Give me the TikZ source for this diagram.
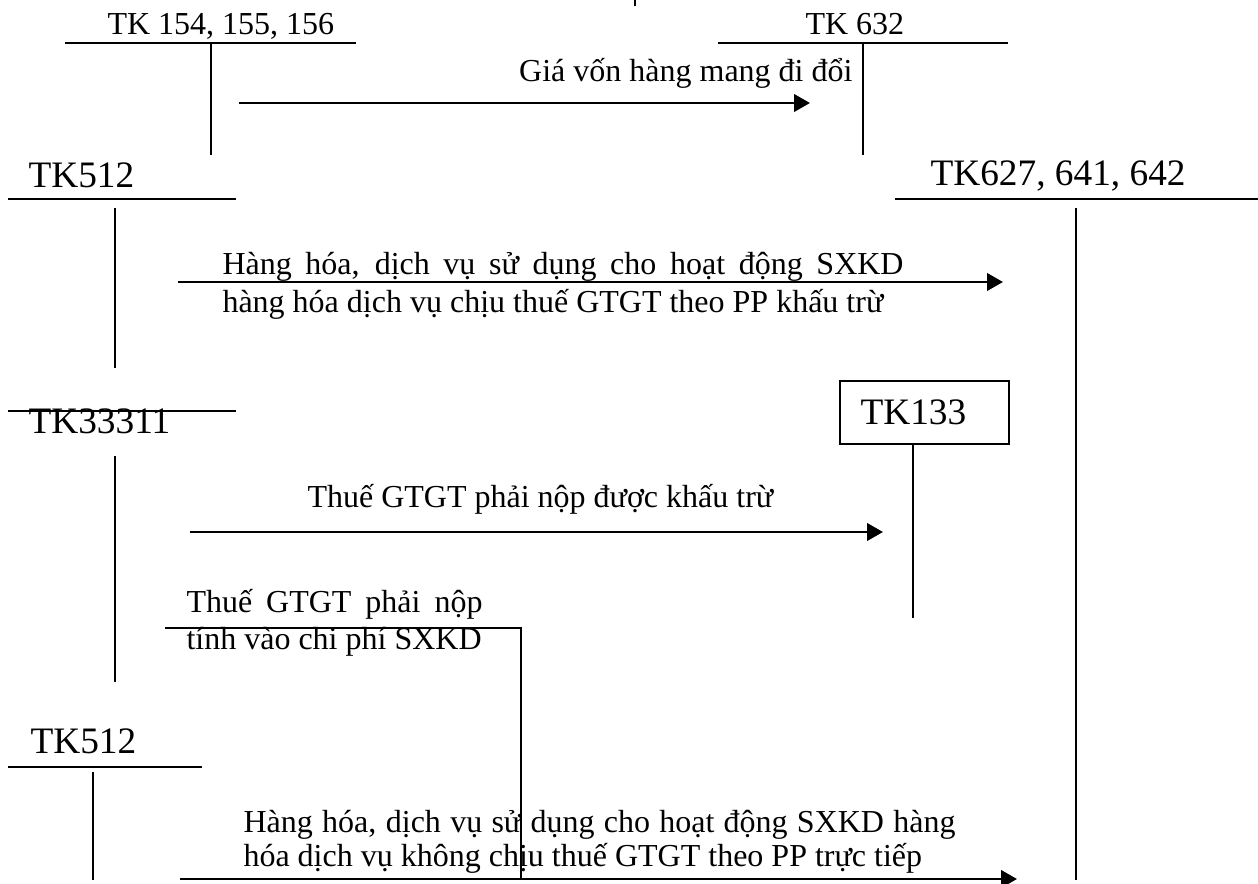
\documentclass[tikz,border=0pt]{standalone}
\usepackage{fontspec}
\setmainfont{Liberation Serif}
\usetikzlibrary{arrows.meta}
\tikzset{
  acc/.style={line width=0.75pt},
  flow/.style={line width=1.1pt,-{Triangle[length=6pt,width=6.5pt]}},
  small/.style={font=\fontsize{12}{14}\selectfont,inner sep=0pt,anchor=base west},
  big/.style={font=\fontsize{14}{16}\selectfont,inner sep=0pt,anchor=base west},
  boxed/.style={draw,line width=0.75pt,anchor=north west,inner sep=0pt,minimum width=63.4pt,minimum height=23.6pt}
}
\begin{document}
\begin{tikzpicture}[x=0.375pt,y=-0.375pt]
\useasboundingbox (0,0) rectangle (1258,884);
% top tick
\coordinate (tick1) at (635,0); \coordinate (tick2) at (635,6);
\draw[acc] (tick1) -- (tick2);
% TK 154,155,156
\node[small] (tk154) at (107,35) {TK 154, 155, 156};
\coordinate (tk154l) at (65,43); \coordinate (tk154r) at (356,43);
\coordinate (tk154t) at (211,43); \coordinate (tk154b) at (211,155);
\draw[acc] (tk154l) -- (tk154r); \draw[acc] (tk154t) -- (tk154b);
% TK 632
\node[small] (tk632) at (805,35) {TK 632};
\coordinate (tk632l) at (718,43); \coordinate (tk632r) at (1008,43);
\coordinate (tk632t) at (863,43); \coordinate (tk632b) at (863,155);
\draw[acc] (tk632l) -- (tk632r); \draw[acc] (tk632t) -- (tk632b);
% arrow 1
\coordinate (a1s) at (239,103); \coordinate (a1e) at (810,103);
\draw[flow] (a1s) -- (a1e);
\node[small,anchor=base east] (l1) at (853,82) {Giá vốn hàng mang đi đổi};
% TK512
\node[big] (tk512) at (28,188) {TK512};
\coordinate (tk512l) at (8,199); \coordinate (tk512r) at (236,199);
\coordinate (tk512t) at (115,208); \coordinate (tk512b) at (115,368);
\draw[acc] (tk512l) -- (tk512r); \draw[acc] (tk512t) -- (tk512b);
% TK627
\node[big] (tk627) at (930,186) {TK627, 641, 642};
\coordinate (tk627l) at (895,199); \coordinate (tk627r) at (1258,199);
\coordinate (tk627t) at (1076,208); \coordinate (tk627b) at (1076,880);
\draw[acc] (tk627l) -- (tk627r); \draw[acc] (tk627t) -- (tk627b);
% arrow 2
\coordinate (a2s) at (178,282); \coordinate (a2e) at (1003,282);
\draw[flow] (a2s) -- (a2e);
\node[small] (l2a) at (222,275) {\makebox[255.4pt][s]{Hàng hóa, dịch vụ sử dụng cho hoạt động SXKD}};
\node[small] (l2b) at (222,313) {hàng hóa dịch vụ chịu thuế GTGT theo PP khấu trừ};
% TK33311
\node[big] (tk33311) at (28,434) {TK33311};
\coordinate (tk333l) at (8,411); \coordinate (tk333r) at (236,411);
\coordinate (tk333t) at (115,456); \coordinate (tk333b) at (115,682);
\draw[acc] (tk333l) -- (tk333r); \draw[acc] (tk333t) -- (tk333b);
% TK133
\node[boxed] (tk133box) at (839,380) {};
\node[big] (tk133) at (860,425) {TK133};
\coordinate (tk133b) at (913,618);
\draw[acc] (tk133box.south -| tk133b) -- (tk133b);
% arrow 3
\coordinate (a3s) at (190,532); \coordinate (a3e) at (883,532);
\draw[flow] (a3s) -- (a3e);
\node[small] (l3) at (307,508) {Thuế GTGT phải nộp được khấu trừ};
% cost line
\node[small] (l4a) at (186,613) {\makebox[111pt][s]{Thuế GTGT phải nộp}};
\node[small] (l4b) at (186,650) {tính vào chi phí SXKD};
\coordinate (c1) at (165,628); \coordinate (c2) at (521,628); \coordinate (c3) at (521,880);
\draw[acc] (c1) -- (c2) -- (c3);
% TK512 second
\node[big] (tk512b2) at (30,753) {TK512};
\coordinate (tk5l) at (8,767); \coordinate (tk5r) at (202,767);
\coordinate (tk5t) at (93,772); \coordinate (tk5b) at (93,880);
\draw[acc] (tk5l) -- (tk5r); \draw[acc] (tk5t) -- (tk5b);
% bottom arrow
\coordinate (a4s) at (180,879); \coordinate (a4e) at (1017,879);
\draw[flow] (a4s) -- (a4e);
\node[small] (l5a) at (243,832) {\makebox[267pt][s]{Hàng hóa, dịch vụ sử dụng cho hoạt động SXKD hàng}};
\node[small] (l5b) at (243,867) {hóa dịch vụ không chịu thuế GTGT theo PP trực tiếp};
\end{tikzpicture}
\end{document}
